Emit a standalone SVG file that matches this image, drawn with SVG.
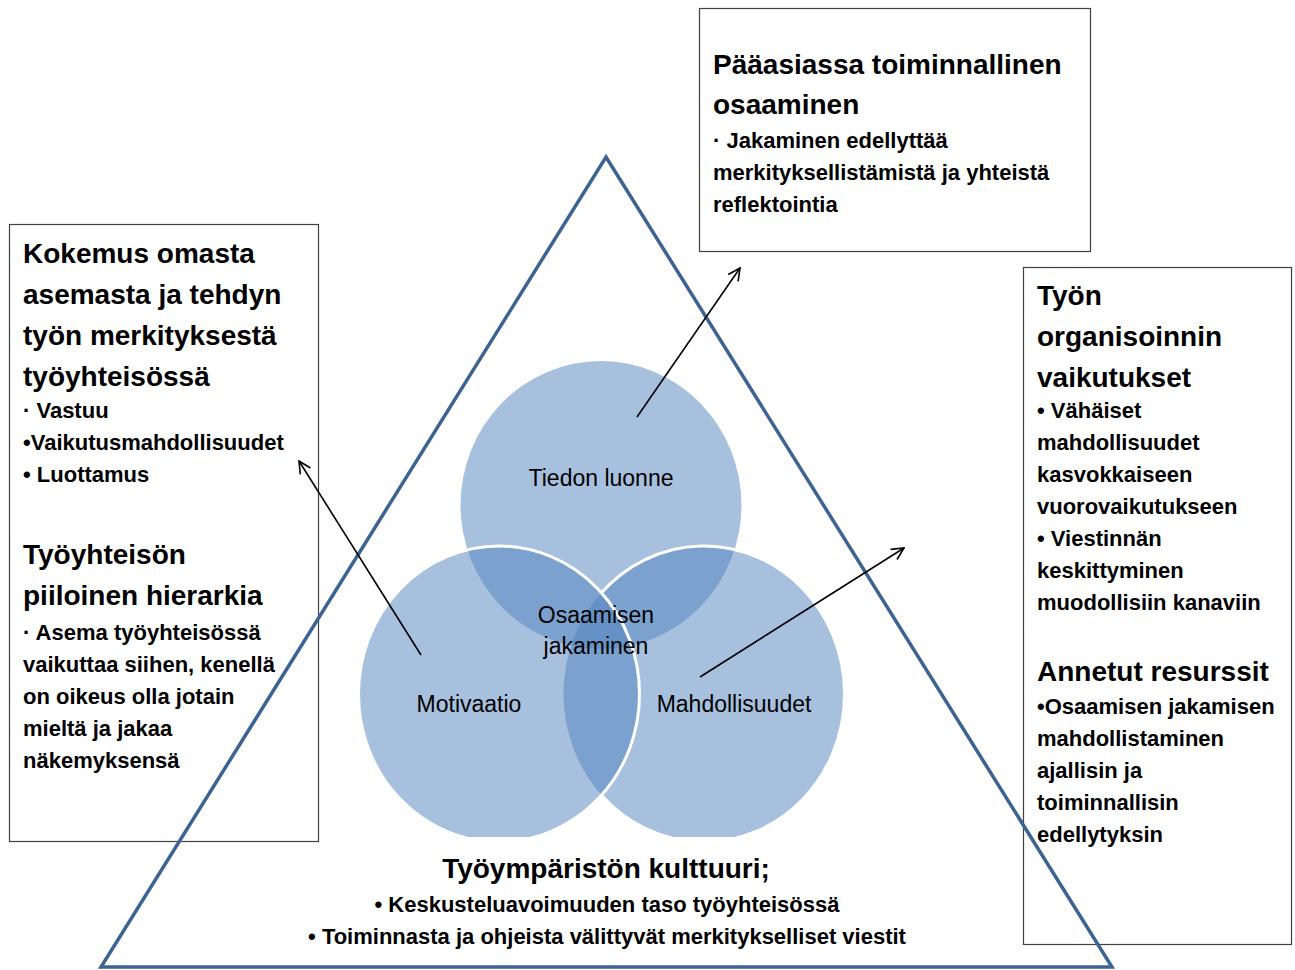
<svg xmlns="http://www.w3.org/2000/svg" width="1295" height="970" viewBox="0 0 1295 970">
  <style>
    .box { fill: none; stroke: #404040; stroke-width: 1.2; }
    .head { font-family: "Liberation Sans", Arial, sans-serif; font-weight: bold; font-size: 28px; fill: #000; }
    .body { font-family: "Liberation Sans", Arial, sans-serif; font-weight: bold; font-size: 22px; fill: #000; }
    .venn { fill: #4f81bd; fill-opacity: 0.5; }
    .ring { fill: none; stroke: #fff; stroke-width: 3; }
    .vlabel { font-family: "Liberation Sans", Arial, sans-serif; font-size: 23px; fill: #000; text-anchor: middle; }
    .tri { fill: none; stroke: #3d6392; stroke-width: 3.5; stroke-linejoin: miter; }
    .link { fill: none; stroke: #000; stroke-width: 1.6; }
  </style>
  <defs>
    <marker id="open" viewBox="0 0 14 14" refX="13" refY="7" markerWidth="14" markerHeight="14" markerUnits="userSpaceOnUse" orient="auto">
      <path d="M1,1 L13,7 L1,13" fill="none" stroke="#000" stroke-width="1.6"/>
    </marker>
    <clipPath id="cut">
      <rect x="0" y="0" width="1295" height="837"/>
    </clipPath>
  </defs>
  <rect width="1295" height="970" fill="#fff"/>

  <!-- Venn of three overlapping ellipses, cut flat at the bottom -->
  <g id="venn" clip-path="url(#cut)">
    <g id="tiedon-luonne">
      <ellipse class="venn" cx="601" cy="505" rx="140.5" ry="144"/>
    </g>
    <g id="mahdollisuudet">
      <ellipse class="venn" cx="704" cy="694" rx="140.5" ry="148"/>
      <path class="ring" d="M601.5,592.8 A140.5,148 0 1 1 601.5,795.2"/>
    </g>
    <g id="motivaatio">
      <ellipse class="venn" cx="499" cy="694" rx="140.5" ry="148"/>
      <ellipse class="ring" cx="499" cy="694" rx="140.5" ry="148"/>
    </g>
  </g>
  <g id="venn-labels">
    <text class="vlabel" x="601" y="486">Tiedon luonne</text>
    <text class="vlabel" x="596" y="623">Osaamisen</text>
    <text class="vlabel" x="596" y="654">jakaminen</text>
    <text class="vlabel" x="469" y="712">Motivaatio</text>
    <text class="vlabel" x="734" y="712">Mahdollisuudet</text>
  </g>

  <!-- Left text box -->
  <g id="box-left">
    <rect class="box" x="9.5" y="224.5" width="309" height="617"/>
    <text class="head" x="23" y="263">Kokemus omasta</text>
    <text class="head" x="23" y="304">asemasta ja tehdyn</text>
    <text class="head" x="23" y="345">työn merkityksestä</text>
    <text class="head" x="23" y="386">työyhteisössä</text>
    <text class="body" x="23" y="418">· Vastuu</text>
    <text class="body" x="23" y="450">•Vaikutusmahdollisuudet</text>
    <text class="body" x="23" y="482">• Luottamus</text>
    <text class="head" x="23" y="564">Työyhteisön</text>
    <text class="head" x="23" y="605">piiloinen hierarkia</text>
    <text class="body" x="23" y="640">· Asema työyhteisössä</text>
    <text class="body" x="23" y="672">vaikuttaa siihen, kenellä</text>
    <text class="body" x="23" y="704">on oikeus olla jotain</text>
    <text class="body" x="23" y="736">mieltä ja jakaa</text>
    <text class="body" x="23" y="768">näkemyksensä</text>
  </g>

  <!-- Top text box -->
  <g id="box-top">
    <rect class="box" x="699.5" y="8.5" width="391" height="243"/>
    <text class="head" x="713" y="74">Pääasiassa toiminnallinen</text>
    <text class="head" x="713" y="114">osaaminen</text>
    <text class="body" x="713" y="148">· Jakaminen edellyttää</text>
    <text class="body" x="713" y="180">merkityksellistämistä ja yhteistä</text>
    <text class="body" x="713" y="212">reflektointia</text>
  </g>

  <!-- Right text box -->
  <g id="box-right">
    <rect class="box" x="1023.5" y="267.5" width="268" height="677"/>
    <text class="head" x="1037" y="305">Työn</text>
    <text class="head" x="1037" y="346">organisoinnin</text>
    <text class="head" x="1037" y="387">vaikutukset</text>
    <text class="body" x="1037" y="418">• Vähäiset</text>
    <text class="body" x="1037" y="450">mahdollisuudet</text>
    <text class="body" x="1037" y="482">kasvokkaiseen</text>
    <text class="body" x="1037" y="514">vuorovaikutukseen</text>
    <text class="body" x="1037" y="546">• Viestinnän</text>
    <text class="body" x="1037" y="578">keskittyminen</text>
    <text class="body" x="1037" y="610">muodollisiin kanaviin</text>
    <text class="head" x="1037" y="681">Annetut resurssit</text>
    <text class="body" x="1037" y="714">•Osaamisen jakamisen</text>
    <text class="body" x="1037" y="746">mahdollistaminen</text>
    <text class="body" x="1037" y="778">ajallisin ja</text>
    <text class="body" x="1037" y="810">toiminnallisin</text>
    <text class="body" x="1037" y="842">edellytyksin</text>
  </g>

  <!-- Surrounding triangle with the culture text -->
  <g id="triangle">
    <polygon class="tri" points="606,157 1112,967 101,967"/>
    <text class="head" x="606" y="878" text-anchor="middle">Työympäristön kulttuuri;</text>
    <text class="body" x="607" y="912" text-anchor="middle" font-size="21.5">• Keskusteluavoimuuden taso työyhteisössä</text>
    <text class="body" x="607" y="944" text-anchor="middle" font-size="21.5">• Toiminnasta ja ohjeista välittyvät merkitykselliset viestit</text>
  </g>

  <!-- Connectors from circles to boxes -->
  <g id="connectors">
    <line class="link" x1="637" y1="417" x2="740" y2="268" marker-end="url(#open)"/>
    <line class="link" x1="421" y1="655" x2="299" y2="461" marker-end="url(#open)"/>
    <line class="link" x1="700" y1="677" x2="904" y2="548" marker-end="url(#open)"/>
  </g>
</svg>
